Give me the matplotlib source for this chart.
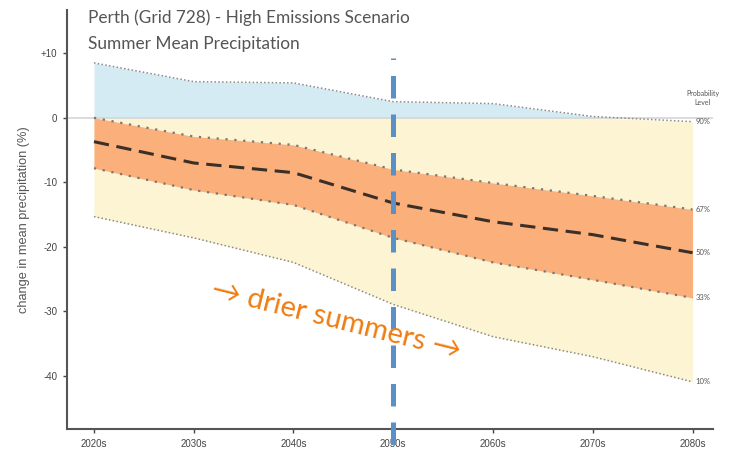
import numpy as np
import matplotlib.pyplot as plt

# projections for summer mean precipitation change (%), by decade
decades = ['2020s', '2030s', '2040s', '2050s', '2060s', '2070s', '2080s']
p90 = [8.5, 5.6, 5.4, 2.5, 2.2, 0.2, -0.6]
p67 = [0.0, -2.9, -4.2, -8.0, -10.1, -12.1, -14.2]
p50 = [-3.7, -7.0, -8.5, -13.2, -16.1, -18.1, -20.9]
p33 = [-7.8, -11.2, -13.5, -18.6, -22.4, -25.1, -27.9]
p10 = [-15.3, -18.6, -22.4, -28.9, -33.9, -37.0, -40.9]
levels = ['90%', '67%', '50%', '33%', '10%']
yticks = [10, 0, -10, -20, -30, -40]
yticklabels = ['+10', '0', '-10', '-20', '-30', '-40']

x = np.arange(len(decades))
p90a = np.array(p90)

fig = plt.figure(figsize=(7.31, 4.61), dpi=100)
ax = fig.add_axes([0.0917, 0.0694, 0.883, 0.909])

grey = '#555555'
dot = dict(color='#8a8a8a', lw=1.1, ls=(0, (1, 1.5)))

# shaded ranges
ax.fill_between(x, p10, np.minimum(p90a, 0), color='#fdf4d3', lw=0, zorder=1)
ax.fill_between(x, 0, p90a, where=p90a > 0, interpolate=True,
                color='#d5ebf3', lw=0, zorder=1)
ax.fill_between(x, p33, p67, color='#fbb07c', lw=0, zorder=2)
ax.axhline(0, color='#d6d6d6', lw=1.2, zorder=1.5)

ax.plot(x, p90, **dot, zorder=3)
ax.plot(x, p10, **dot, zorder=3)
ax.plot(x, p67, color='#777777', lw=1.6, ls=(0, (1, 3)), zorder=3)
ax.plot(x, p33, color='#777777', lw=1.6, ls=(0, (1, 3)), zorder=3)
ax.plot(x, p50, color='#3a3028', lw=2.2, ls=(0, (5, 2.5)), zorder=4)

# probability level labels at the end of each line
ends = [p90[-1], p67[-1], p50[-1], p33[-1], p10[-1]]
for lab, yv in zip(levels, ends):
    ax.text(x[-1] + 0.03, yv, lab, fontsize=5.5, color='#555555',
            va='center', ha='left', family='Lato')
ax.text(x[-1] + 0.1, 1.9, 'Probability\nLevel', fontsize=5, color='#555555',
        ha='center', va='bottom', family='Lato', linespacing=1.3)

# 2050s marker
ax.plot([3, 3], [9.3, -53], color='#5a8fc8', lw=3.6,
        ls=(4.2, (4.5, 3.2)), clip_on=False, zorder=6)

ax.set_xlim(-0.27, 6.2)
ax.set_ylim(-48.2, 16.7)
ax.set_xticks(x)
ax.set_xticklabels(decades)
ax.set_yticks(yticks)
ax.set_yticklabels(yticklabels)
ax.tick_params(labelsize=7, colors='#444444', length=3, width=1, pad=4)
for lab in ax.get_xticklabels() + ax.get_yticklabels():
    lab.set_family('Liberation Sans')
for s in ['top', 'right']:
    ax.spines[s].set_visible(False)
for s in ['left', 'bottom']:
    ax.spines[s].set_color(grey)
    ax.spines[s].set_linewidth(1.5)
ax.set_ylabel('change in mean precipitation (%)', fontsize=9.2,
              color='#555555', labelpad=8, family='Liberation Sans')

fig.text(0.12, 0.962, 'Perth (Grid 728) - High Emissions Scenario',
         fontsize=12.4, color='#555555', family='Lato', va='center')
fig.text(0.12, 0.905, 'Summer Mean Precipitation',
         fontsize=12.4, color='#555555', family='Lato', va='center')

ax.text(2.43, -31.3, '\u2192 drier summers \u2192', fontsize=21,
        color='#ef7d11', family='Lato', rotation=-14,
        ha='center', va='center', rotation_mode='anchor', zorder=7)

fig.savefig('out.png', dpi=100)
